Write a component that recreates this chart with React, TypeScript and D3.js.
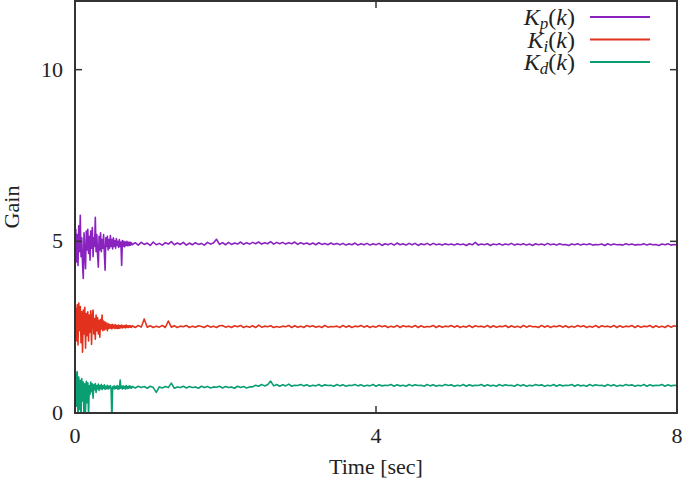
import React from "react";
import * as d3 from "d3";

// Sample times: dense (0.01 s) during the transient, then 0.04 s
const earlyTimes = d3.range(0, 76).map((i) => i * 0.01);
const lateTimes = d3.range(0, 182).map((i) => 0.76 + i * 0.04);

const kpEarly = [
  4.95, 5.35, 4.40, 5.20, 4.30, 5.45, 4.70, 5.76, 4.55, 5.10,
  4.35, 3.92, 5.25, 4.60, 4.20, 5.30, 4.75, 5.35, 4.65, 5.15,
  4.45, 5.30, 4.80, 5.40, 4.55, 5.10, 4.85, 5.70, 4.70, 5.20,
  4.60, 4.25, 5.15, 4.75, 5.25, 4.70, 5.05, 4.80, 5.20, 4.65,
  4.16, 5.10, 4.85, 5.15, 4.75, 5.05, 4.80, 5.17, 4.85, 5.05,
  4.78, 5.10, 4.85, 5.02, 4.80, 5.08, 4.88, 5.00, 4.82, 5.05,
  4.85, 4.98, 4.30, 5.02, 4.86, 5.00, 4.84, 4.98, 4.88, 5.00,
  4.87, 4.97, 4.88, 4.98, 4.89, 4.96,
];
const kpLate = [
  4.90, 4.96, 4.89, 4.97, 4.91, 4.95, 4.88, 4.98, 4.90, 4.94,
  4.89, 4.96, 4.92, 4.99, 4.90, 4.95, 4.91, 4.97, 4.89, 4.95,
  4.90, 4.96, 4.91, 4.94, 4.89, 4.97, 4.92, 4.95, 5.06, 4.91,
  4.96, 4.90, 4.97, 4.91, 4.95, 4.92, 4.98, 4.91, 4.96, 4.92,
  4.97, 4.93, 4.98, 4.92, 4.96, 4.93, 4.99, 4.92, 4.97, 4.93,
  4.97, 4.92, 4.96, 4.93, 4.98, 4.91, 4.96, 4.92, 4.95, 4.91,
  4.95, 4.90, 4.96, 4.91, 4.94, 4.90, 4.95, 4.91, 4.94, 4.90,
  4.94, 4.89, 4.93, 4.90, 4.95, 4.89, 4.93, 4.90, 4.94, 4.89,
  4.93, 4.90, 4.94, 4.88, 4.93, 4.90, 4.94, 4.89, 4.95, 4.90,
  4.93, 4.89, 4.94, 4.90, 4.94, 4.88, 4.93, 4.90, 4.94, 4.89,
  4.94, 4.90, 4.92, 4.89, 4.93, 4.90, 4.92, 4.89, 4.93, 4.90,
  4.92, 4.88, 4.93, 4.90, 4.97, 4.89, 4.92, 4.90, 4.93, 4.88,
  4.92, 4.90, 4.93, 4.89, 4.92, 4.90, 4.94, 4.89, 4.92, 4.90,
  4.93, 4.89, 4.92, 4.88, 4.93, 4.90, 4.92, 4.89, 4.94, 4.90,
  4.92, 4.89, 4.93, 4.90, 4.91, 4.88, 4.92, 4.90, 4.93, 4.89,
  4.92, 4.90, 4.93, 4.89, 4.91, 4.90, 4.92, 4.88, 4.93, 4.89,
  4.92, 4.90, 4.91, 4.89, 4.93, 4.90, 4.92, 4.89, 4.91, 4.90,
  4.93, 4.89, 4.92, 4.90, 4.91, 4.88, 4.92, 4.90, 4.93, 4.89,
  4.91, 4.90,
];

const kiEarly = [
  2.70, 3.05, 2.10, 3.15, 1.98, 3.20, 2.40, 3.10, 2.05, 2.95,
  1.77, 3.00, 2.30, 3.08, 1.89, 2.90, 2.25, 2.95, 2.10, 2.85,
  2.35, 2.98, 2.00, 2.80, 3.00, 2.30, 2.75, 2.15, 2.85, 2.40,
  2.78, 2.30, 2.70, 2.21, 2.72, 2.45, 2.85, 2.40, 2.68, 2.42,
  2.65, 2.45, 2.62, 2.40, 2.60, 2.46, 2.58, 2.47, 2.57, 2.45,
  2.58, 2.48, 2.56, 2.46, 2.57, 2.47, 2.55, 2.46, 2.56, 2.47,
  2.55, 2.48, 2.56, 2.48, 2.54, 2.49, 2.55, 2.48, 2.56, 2.49,
  2.54, 2.49, 2.55, 2.50, 2.54, 2.49,
];
const kiLate = [
  2.54, 2.49, 2.55, 2.50, 2.74, 2.50, 2.54, 2.49, 2.53, 2.50,
  2.55, 2.49, 2.68, 2.50, 2.54, 2.49, 2.53, 2.51, 2.55, 2.49,
  2.53, 2.50, 2.54, 2.52, 2.49, 2.55, 2.50, 2.53, 2.49, 2.54,
  2.55, 2.50, 2.53, 2.49, 2.54, 2.51, 2.55, 2.49, 2.53, 2.50,
  2.54, 2.49, 2.56, 2.50, 2.53, 2.51, 2.54, 2.49, 2.52, 2.50,
  2.53, 2.51, 2.55, 2.49, 2.54, 2.50, 2.53, 2.49, 2.55, 2.51,
  2.54, 2.50, 2.53, 2.49, 2.55, 2.50, 2.52, 2.51, 2.53, 2.49,
  2.55, 2.50, 2.54, 2.49, 2.53, 2.51, 2.55, 2.50, 2.54, 2.49,
  2.53, 2.50, 2.55, 2.51, 2.54, 2.49, 2.53, 2.50, 2.55, 2.49,
  2.54, 2.51, 2.53, 2.50, 2.55, 2.49, 2.54, 2.50, 2.52, 2.51,
  2.55, 2.49, 2.54, 2.50, 2.53, 2.51, 2.55, 2.50, 2.54, 2.49,
  2.53, 2.50, 2.55, 2.49, 2.54, 2.51, 2.53, 2.50, 2.55, 2.49,
  2.54, 2.50, 2.53, 2.51, 2.55, 2.49, 2.54, 2.50, 2.53, 2.49,
  2.55, 2.50, 2.54, 2.51, 2.52, 2.49, 2.55, 2.50, 2.54, 2.49,
  2.53, 2.51, 2.55, 2.50, 2.54, 2.49, 2.53, 2.50, 2.55, 2.51,
  2.54, 2.49, 2.53, 2.50, 2.55, 2.49, 2.54, 2.51, 2.53, 2.50,
  2.55, 2.49, 2.54, 2.50, 2.53, 2.51, 2.55, 2.49, 2.54, 2.50,
  2.53, 2.51, 2.55, 2.49, 2.54, 2.50, 2.53, 2.49, 2.55, 2.50,
  2.54, 2.52,
];

const kdEarly = [
  1.34, 1.10, 0.20, 1.20, -0.30, 1.05, 0.10, 0.95, -0.20, 1.00,
  0.35, 0.90, -0.25, 0.85, 0.05, 0.92, 0.30, 0.88, -0.10, 0.80,
  0.55, 0.90, 0.62, 0.85, 0.43, 0.82, 0.68, 0.86, 0.60, 0.80,
  0.70, 0.84, 0.66, 0.80, 0.71, 0.83, 0.68, 0.79, 0.72, 0.82,
  0.69, 0.78, 0.71, 0.81, 0.70, 0.78, 0.72, 0.80, 0.70, -0.20,
  0.76, 0.71, 0.79, 0.70, 0.77, 0.72, 0.80, 0.69, 0.78, 0.71,
  0.96, 0.72, 0.78, 0.70, 0.79, 0.72, 0.77, 0.70, 0.80, 0.71,
  0.77, 0.72, 0.79, 0.73, 0.78, 0.72,
];
const kdLate = [
  0.77, 0.73, 0.78, 0.74, 0.77, 0.72, 0.78, 0.74, 0.60, 0.76,
  0.73, 0.77, 0.74, 0.87, 0.72, 0.76, 0.74, 0.78, 0.73, 0.77,
  0.74, 0.76, 0.72, 0.78, 0.74, 0.77, 0.73, 0.76, 0.75, 0.78,
  0.73, 0.77, 0.74, 0.76, 0.72, 0.78, 0.74, 0.77, 0.73, 0.76,
  0.76, 0.81, 0.78, 0.83, 0.79, 0.82, 0.93, 0.79, 0.83, 0.78,
  0.82, 0.79, 0.84, 0.78, 0.81, 0.80, 0.83, 0.79, 0.82, 0.78,
  0.81, 0.79, 0.83, 0.78, 0.82, 0.80, 0.81, 0.78, 0.83, 0.79,
  0.82, 0.78, 0.81, 0.80, 0.83, 0.79, 0.82, 0.78, 0.81, 0.79,
  0.83, 0.78, 0.82, 0.79, 0.81, 0.80, 0.83, 0.78, 0.82, 0.79,
  0.81, 0.78, 0.83, 0.79, 0.82, 0.80, 0.81, 0.78, 0.83, 0.79,
  0.82, 0.78, 0.81, 0.79, 0.83, 0.80, 0.82, 0.78, 0.81, 0.79,
  0.83, 0.78, 0.82, 0.79, 0.81, 0.80, 0.83, 0.78, 0.82, 0.79,
  0.81, 0.78, 0.83, 0.79, 0.82, 0.80, 0.81, 0.78, 0.83, 0.79,
  0.82, 0.78, 0.81, 0.79, 0.83, 0.80, 0.82, 0.78, 0.81, 0.79,
  0.83, 0.78, 0.82, 0.79, 0.81, 0.80, 0.83, 0.78, 0.82, 0.79,
  0.81, 0.78, 0.83, 0.79, 0.82, 0.80, 0.81, 0.78, 0.83, 0.79,
  0.82, 0.78, 0.81, 0.79, 0.83, 0.80, 0.82, 0.78, 0.81, 0.79,
  0.83, 0.78, 0.82, 0.79, 0.81, 0.80, 0.83, 0.78, 0.82, 0.79,
  0.81, 0.80,
];

const xTicks = [0, 4, 8];
const yTicks = [0, 5, 10];
const seriesNames = ["p", "i", "d"];
const seriesColors = ["#8a22c0", "#e2321e", "#0a9e73"];

const W = 685;
const H = 480;
const M = { left: 75, right: 677, top: 1, bottom: 413 };
const FONT = "'Liberation Serif', 'DejaVu Serif', serif";

export default function App() {
  const x = d3.scaleLinear().domain([0, 8]).range([M.left, M.right]);
  const y = d3.scaleLinear().domain([0, 12]).range([M.bottom, M.top]);
  const times = [...earlyTimes, ...lateTimes];
  const series = [
    [...kpEarly, ...kpLate],
    [...kiEarly, ...kiLate],
    [...kdEarly, ...kdLate],
  ];
  const line = d3
    .line<number>()
    .x((_, i) => x(times[i]))
    .y((d) => y(d));

  const tickLen = 7;
  const axisColor = "#333";

  return (
    <svg
      width={W}
      height={H}
      style={{ position: "absolute", left: 0, top: 0, background: "#fff" }}
      fontFamily={FONT}
    >
      <defs>
        <clipPath id="plotclip">
          <rect x={M.left} y={M.top} width={M.right - M.left} height={M.bottom - M.top} />
        </clipPath>
      </defs>

      <g clipPath="url(#plotclip)">
        {series.map((s, k) => (
          <path
            key={k}
            d={line(s) || ""}
            fill="none"
            stroke={seriesColors[k]}
            strokeWidth={1.6}
            strokeLinejoin="round"
          />
        ))}
      </g>

      {xTicks.map((t) => (
        <g key={"x" + t}>
          <line x1={x(t)} x2={x(t)} y1={M.bottom} y2={M.bottom - tickLen} stroke={axisColor} strokeWidth={1.5} />
          <line x1={x(t)} x2={x(t)} y1={M.top} y2={M.top + tickLen} stroke={axisColor} strokeWidth={1.5} />
          <text x={x(t)} y={443} textAnchor="middle" fontSize={22} fill="#222">
            {t}
          </text>
        </g>
      ))}
      {yTicks.map((t) => (
        <g key={"y" + t}>
          <line x1={M.left} x2={M.left + tickLen} y1={y(t)} y2={y(t)} stroke={axisColor} strokeWidth={1.5} />
          <line x1={M.right} x2={M.right - tickLen} y1={y(t)} y2={y(t)} stroke={axisColor} strokeWidth={1.5} />
          <text x={63} y={y(t) + 7} textAnchor="end" fontSize={22} fill="#222">
            {t}
          </text>
        </g>
      ))}

      <rect
        x={M.left}
        y={M.top}
        width={M.right - M.left}
        height={M.bottom - M.top}
        fill="none"
        stroke={axisColor}
        strokeWidth={2}
      />

      <text x={(M.left + M.right) / 2} y={474} textAnchor="middle" fontSize={22} fill="#222">
        Time [sec]
      </text>
      <text
        transform={`translate(19, ${(M.top + M.bottom) / 2}) rotate(-90)`}
        textAnchor="middle"
        fontSize={22}
        fill="#222"
      >
        Gain
      </text>

      {seriesNames.map((n, k) => {
        const ly = 17 + k * 22.5;
        return (
          <g key={n}>
            <text x={575} y={ly + 8} textAnchor="end" fontSize={24} fill="#222">
              <tspan fontStyle="italic">K</tspan>
              <tspan fontStyle="italic" fontSize={17} dy={4}>
                {n}
              </tspan>
              <tspan dy={-4}>(</tspan>
              <tspan fontStyle="italic">k</tspan>
              <tspan>)</tspan>
            </text>
            <line x1={590} x2={650} y1={ly} y2={ly} stroke={seriesColors[k]} strokeWidth={1.8} />
          </g>
        );
      })}
    </svg>
  );
}
